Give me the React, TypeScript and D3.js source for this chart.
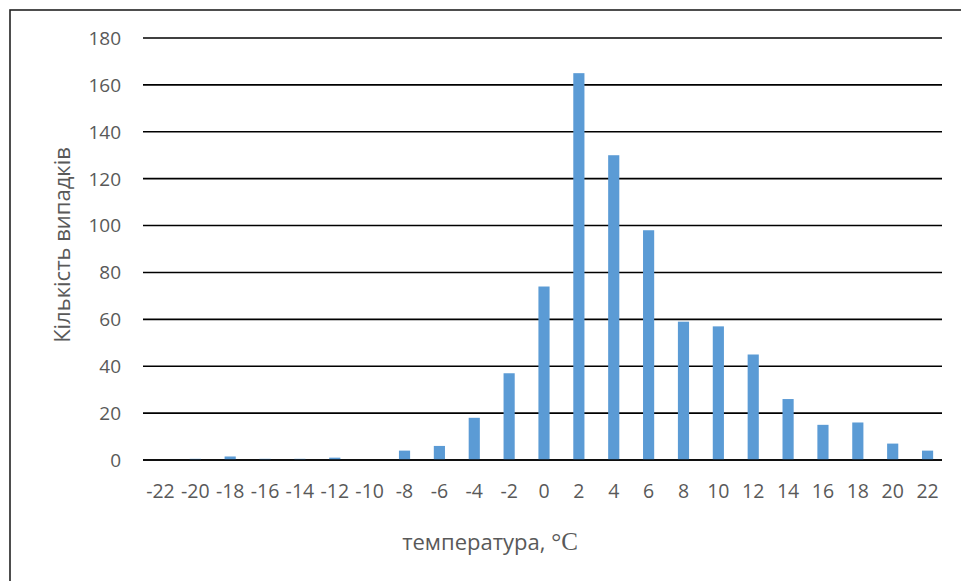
import React from "react";
import * as d3 from "d3";

const categories: number[] = [-22, -20, -18, -16, -14, -12, -10, -8, -6, -4, -2, 0, 2, 4, 6, 8, 10, 12, 14, 16, 18, 20, 22];
const counts: number[] = [0, 0.5, 1.5, 0.5, 0.5, 1, 0, 4, 6, 18, 37, 74, 165, 130, 98, 59, 57, 45, 26, 15, 16, 7, 4];
const yTicks: number[] = [0, 20, 40, 60, 80, 100, 120, 140, 160, 180];
const yTitle = "Кількість випадків";
const xTitle = "температура, ";
const xUnit = "°C";

const W = 961;
const H = 581;

export default function App() {
  const x = d3
    .scaleBand<string>()
    .domain(categories.map(String))
    .range([143, 945])
    .paddingInner(0.68)
    .paddingOuter(0.34);
  const y = d3.scaleLinear().domain([0, 180]).range([460, 38]);
  const fontFamily = "'Open Sans', 'Liberation Sans', sans-serif";

  return (
    <svg width={W} height={H} style={{ position: "absolute", left: 0, top: 0 }}>
      <rect x={0} y={0} width={W} height={H} fill="#fff" />
      <rect x={10} y={10} width={W + 10} height={H + 10} fill="none" stroke="#222" strokeWidth={1.6} />
      {yTicks.map((t) => (
        <g key={t}>
          <line x1={143} x2={942} y1={y(t)} y2={y(t)} stroke="#000" strokeWidth={1.6} />
          <text x={121} y={y(t)} dy="0.36em" textAnchor="end" fontSize={19} fill="#595959" fontFamily={fontFamily}>
            {t}
          </text>
        </g>
      ))}
      {categories.map((c, i) => {
        const v = counts[i];
        const bx = x(String(c))!;
        return (
          <rect key={c} x={bx} y={y(v)} width={x.bandwidth()} height={y(0) - y(v)} fill="#5B9BD5" />
        );
      })}
      <line x1={143} x2={942} y1={y(0)} y2={y(0)} stroke="#000" strokeWidth={1.6} />
      {categories.map((c) => (
        <text
          key={c}
          x={x(String(c))! + x.bandwidth() / 2}
          y={491}
          dy="0.36em"
          textAnchor="middle"
          fontSize={19.5}
          fill="#595959"
          fontFamily={fontFamily}
        >
          {c}
        </text>
      ))}
      <text
        transform={`translate(62,245) rotate(-90)`}
        textAnchor="middle"
        dy="0.36em"
        fontSize={22}
        fill="#595959"
        fontFamily={fontFamily}
      >
        {yTitle}
      </text>
      <text x={490} y={542} dy="0.36em" textAnchor="middle" fontSize={22} fill="#595959" fontFamily={fontFamily}>
        {xTitle}
        <tspan fontFamily="'Liberation Serif', serif" fontSize={25}>{xUnit}</tspan>
      </text>
    </svg>
  );
}
